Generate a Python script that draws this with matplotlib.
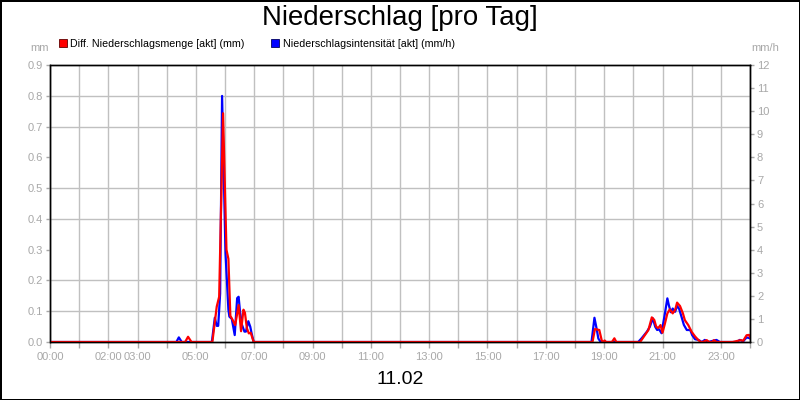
import numpy as np
import matplotlib
matplotlib.use("Agg")
import matplotlib.pyplot as plt
from matplotlib.patches import Patch
from matplotlib.ticker import FixedLocator

plt.rcParams['font.family'] = ['Liberation Sans', 'DejaVu Sans']

# Diff. Niederschlagsmenge (mm), linke Achse
menge_zeit = ["00:00", "04:38", "04:44", "04:51",
              "05:34", "05:43", "05:48", "05:56", "06:03", "06:07", "06:11",
              "06:16", "06:21", "06:28", "06:33", "06:38", "06:41", "06:45",
              "06:49", "06:53", "06:59",
              "18:36", "18:41", "18:50", "18:55", "18:58", "19:01", "19:04",
              "19:16", "19:21", "19:25",
              "20:14", "20:24", "20:31", "20:38", "20:43", "20:47", "20:51",
              "20:56", "21:00", "21:05", "21:10", "21:15", "21:21", "21:26",
              "21:30", "21:36", "21:42", "21:46", "21:53", "22:00", "22:07",
              "22:14", "22:19", "22:23", "22:31", "22:36", "22:42", "22:46",
              "22:51", "23:24", "23:41", "23:46", "23:53", "23:58", "24:00"]
menge_mm = [0, 0, 0.017, 0,
            0, 0.115, 0.147, 0.743, 0.30, 0.27, 0.085,
            0.071, 0.055, 0.12, 0.035, 0.105, 0.095, 0.045,
            0.028, 0.03, 0,
            0, 0.042, 0.039, 0.005, 0, 0.005, 0,
            0, 0.012, 0,
            0, 0.023, 0.039, 0.08, 0.072, 0.05, 0.045,
            0.055, 0.03, 0.06, 0.093, 0.106, 0.093, 0.104,
            0.128, 0.117, 0.093, 0.071, 0.055, 0.033, 0.018,
            0.006, 0, 0, 0.006, 0, 0, 0.006,
            0, 0, 0.006, 0.004, 0.022, 0.023, 0.016]

# Niederschlagsintensitaet (mm/h), rechte Achse
intens_zeit = ["00:00", "04:20", "04:25", "04:31",
               "05:33", "05:39", "05:43", "05:46", "05:50", "05:54", "06:01",
               "06:07", "06:09", "06:14", "06:20", "06:25", "06:28", "06:31",
               "06:35", "06:40", "06:43", "06:48", "06:52", "06:55", "06:59",
               "18:34", "18:40", "18:45", "18:48", "18:53",
               "20:10", "20:17", "20:28", "20:34", "20:40", "20:45", "20:49",
               "20:53", "20:58", "21:05", "21:10", "21:13", "21:17", "21:21",
               "21:26", "21:30", "21:34", "21:39", "21:44", "21:50", "21:57",
               "22:01", "22:07", "22:14", "22:21", "22:27", "22:34", "22:51",
               "22:58", "23:33", "23:39", "23:46", "23:53", "24:00"]
intens_mmh = [0, 0, 0.2, 0,
              0, 1.05, 0.7, 0.7, 2.1, 10.66, 3.85,
              1.4, 1.1, 1.0, 0.3, 1.9, 1.96, 1.3,
              0.74, 0.45, 0.45, 0.9, 0.66, 0.35, 0,
              0, 1.05, 0.52, 0.15, 0,
              0, 0.16, 0.45, 0.66, 1.03, 0.66, 0.52,
              0.55, 0.38, 1.24, 1.89, 1.6, 1.29, 1.45,
              1.31, 1.56, 1.45, 1.1, 0.74, 0.52, 0.52,
              0.3, 0.12, 0.09, 0, 0.09, 0, 0.09,
              0, 0, 0.09, 0.03, 0.2, 0.16]

label_stunden = [0, 2, 3, 5, 7, 9, 11, 13, 15, 17, 19, 21, 23]
datum = "11.02"

grau = "#a8a8a8"


def zu_stunden(zeiten):
    return [int(z[:2]) + int(z[3:]) / 60 for z in zeiten]


fig = plt.figure(figsize=(8, 4), dpi=100)
fig.patch.set_edgecolor("black")
fig.patch.set_linewidth(2)

ax2 = fig.add_axes([0.0625, 0.145, 0.875, 0.6925])
ax = ax2.twinx()
ax.yaxis.tick_left()
ax2.yaxis.tick_right()
ax.set_zorder(ax2.get_zorder() + 1)
ax.patch.set_visible(False)

# blaue Linie unten, rote oben
ax2.plot(zu_stunden(intens_zeit), intens_mmh, color="#0000ff", lw=1.6)
ax.plot(zu_stunden(menge_zeit), menge_mm, color="#ff0000", lw=1.6)

ax.set_xlim(0, 24)
ax.set_ylim(0, 0.9)
ax2.set_ylim(0, 12)

stunden = np.arange(0, 25)
ax2.set_xticks(stunden)
ax2.set_xticklabels(["%02d:00" % h if h in label_stunden else "" for h in stunden])
ax.set_yticks(np.arange(0, 0.91, 0.1))
ax.set_yticklabels(["%.1f" % v for v in np.arange(0, 0.91, 0.1)])
ax2.set_yticks(np.arange(0, 13))

# Gitter auf der unteren Achse, horizontal an den mm-Teilstrichen
ax2.yaxis.set_minor_locator(FixedLocator(np.arange(0, 12.01, 12 / 9)))
ax2.grid(True, which="minor", axis="y", color="#c0c0c0", lw=1)
ax2.grid(True, which="major", axis="x", color="#c0c0c0", lw=1)
ax2.tick_params(axis="y", which="minor", length=0)

for a in (ax, ax2):
    a.tick_params(colors=grau, labelcolor=grau, labelsize=8, length=3, width=1)
    for s in a.spines.values():
        s.set_color("black")
        s.set_linewidth(1)
ax2.tick_params(axis="x", length=4, pad=3)
ax.tick_params(axis="y", pad=2)
ax2.tick_params(axis="y", pad=2)

fig.text(0.5, 1 - 18 / 400, "Niederschlag [pro Tag]", ha="center", va="center", fontsize=19.9)
fig.text(0.5, 1 - 380 / 400, datum, ha="center", va="center", fontsize=14)
fig.text(40 / 800, 1 - 48 / 400, "mm", ha="center", va="center", fontsize=8, color=grau)
fig.text(765 / 800, 1 - 48 / 400, "mm/h", ha="center", va="center", fontsize=8, color=grau)

handles = [Patch(facecolor="#ff0000", edgecolor="#600000", lw=0.6),
           Patch(facecolor="#0000ff", edgecolor="#000060", lw=0.6)]
fig.legend(handles, ["Diff. Niederschlagsmenge [akt] (mm)", "Niederschlagsintensität [akt] (mm/h)"],
           loc="center left", bbox_to_anchor=(59 / 800, 1 - 44 / 400), ncol=2, frameon=False,
           fontsize=7.7, handlelength=0.75, handleheight=0.75, handletextpad=0.3,
           columnspacing=2.5, borderpad=0, borderaxespad=0)

fig.savefig("out.png", dpi=100)
